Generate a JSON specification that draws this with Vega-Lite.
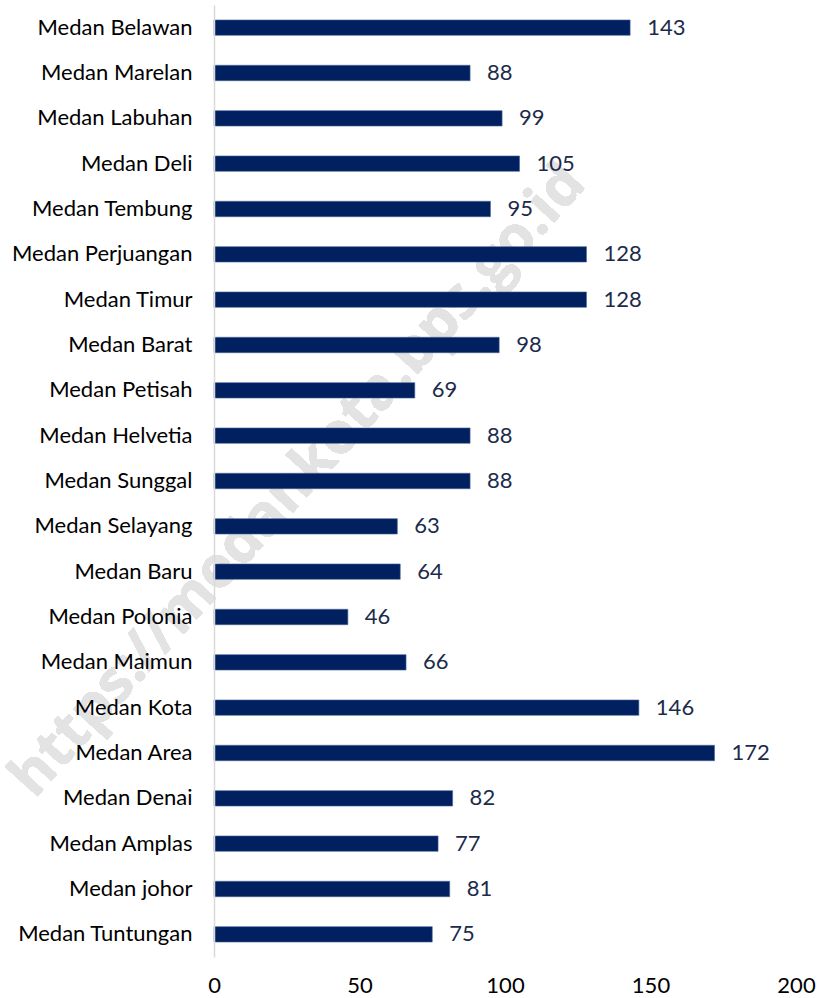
{
  "$schema": "https://vega.github.io/schema/vega-lite/v6.json",
  "width": 582,
  "height": 952,
  "autosize": {"type": "none"},
  "padding": {"left": 214, "top": 5, "right": 26, "bottom": 41},
  "background": "white",
  "config": {
    "view": {"stroke": null},
    "font": "Lato",
    "axis": {"labelFont": "Lato", "labelFontSize": 22, "grid": false, "ticks": false}
  },
  "data": {
    "values": [
      {"kecamatan": "Medan Belawan", "value": 143},
      {"kecamatan": "Medan Marelan", "value": 88},
      {"kecamatan": "Medan Labuhan", "value": 99},
      {"kecamatan": "Medan Deli", "value": 105},
      {"kecamatan": "Medan Tembung", "value": 95},
      {"kecamatan": "Medan Perjuangan", "value": 128},
      {"kecamatan": "Medan Timur", "value": 128},
      {"kecamatan": "Medan Barat", "value": 98},
      {"kecamatan": "Medan Petisah", "value": 69},
      {"kecamatan": "Medan Helvetia", "value": 88},
      {"kecamatan": "Medan Sunggal", "value": 88},
      {"kecamatan": "Medan Selayang", "value": 63},
      {"kecamatan": "Medan Baru", "value": 64},
      {"kecamatan": "Medan Polonia", "value": 46},
      {"kecamatan": "Medan Maimun", "value": 66},
      {"kecamatan": "Medan Kota", "value": 146},
      {"kecamatan": "Medan Area", "value": 172},
      {"kecamatan": "Medan Denai", "value": 82},
      {"kecamatan": "Medan Amplas", "value": 77},
      {"kecamatan": "Medan johor", "value": 81},
      {"kecamatan": "Medan Tuntungan", "value": 75}
    ]
  },
  "encoding": {
    "y": {
      "field": "kecamatan",
      "type": "nominal",
      "sort": null,
      "scale": {
        "domain": ["Medan Belawan", "Medan Marelan", "Medan Labuhan", "Medan Deli", "Medan Tembung", "Medan Perjuangan", "Medan Timur", "Medan Barat", "Medan Petisah", "Medan Helvetia", "Medan Sunggal", "Medan Selayang", "Medan Baru", "Medan Polonia", "Medan Maimun", "Medan Kota", "Medan Area", "Medan Denai", "Medan Amplas", "Medan johor", "Medan Tuntungan"],
        "paddingInner": 0.66,
        "paddingOuter": 0.33
      },
      "axis": {
        "title": null,
        "zindex": 1,
        "domainColor": "#d9d9d9",
        "domainWidth": 1.5,
        "labelColor": "#000000",
        "labelPadding": 22,
        "labelLimit": 300
      }
    },
    "x": {
      "field": "value",
      "type": "quantitative",
      "scale": {"domain": [0, 200], "nice": false},
      "axis": {
        "title": null,
        "zindex": 1,
        "values": [0, 50, 100, 150, 200],
        "domain": false,
        "labelFlush": false,
        "labelColor": "#000000",
        "labelPadding": 18
      }
    }
  },
  "layer": [
    {
      "mark": {
        "type": "text",
        "text": "https://medankota.bps.go.id",
        "angle": -48,
        "fontSize": 58,
        "fontWeight": "bold",
        "font": "Open Sans",
        "color": "#e3e3e3",
        "align": "center",
        "baseline": "middle"
      },
      "encoding": {
        "x": {"datum": 29},
        "y": {"datum": "Medan Sunggal"}
      }
    },
    {
      "mark": {"type": "bar", "color": "#002060", "stroke": "#4a6496", "strokeWidth": 0.6}
    },
    {
      "mark": {
        "type": "text",
        "align": "left",
        "baseline": "middle",
        "dx": 17,
        "fontSize": 22,
        "color": "#1c2b4a"
      },
      "encoding": {"text": {"field": "value", "type": "quantitative"}}
    }
  ]
}
